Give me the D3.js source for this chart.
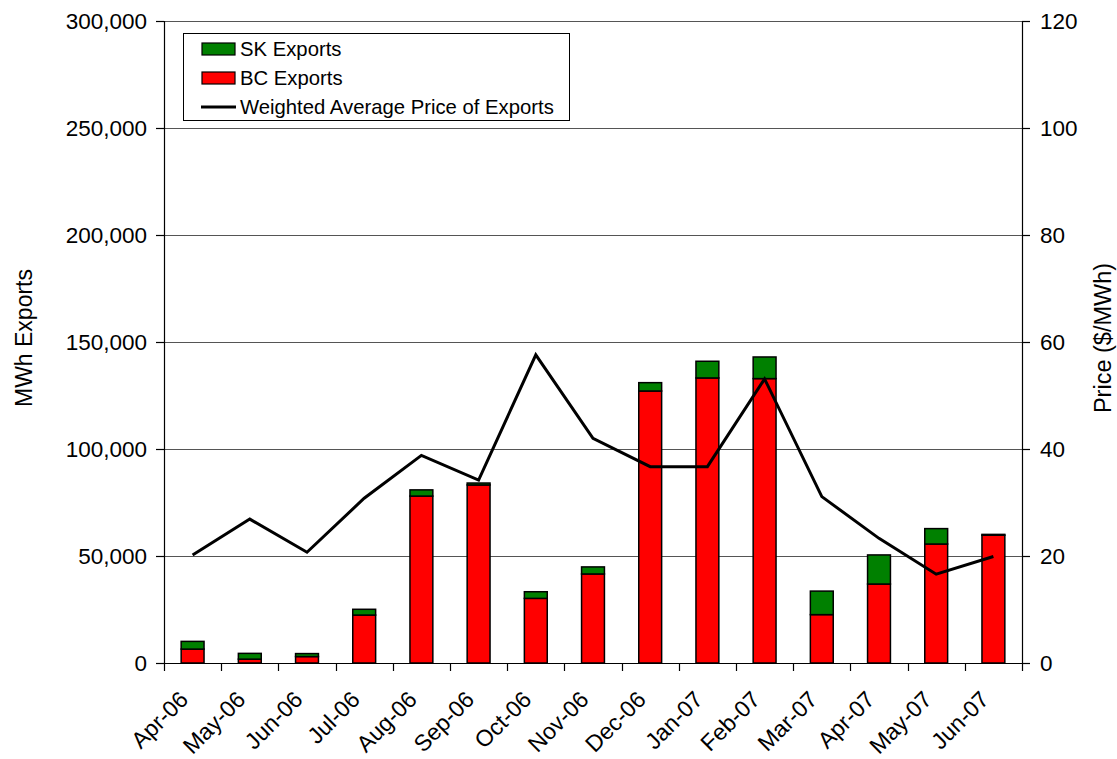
<!DOCTYPE html>
<html>
<head>
<meta charset="utf-8">
<script src="https://cdn.jsdelivr.net/npm/d3@7"></script>
<style>
  body { margin: 0; background: #fff; }
  svg text { font-family: "Liberation Sans", Arial, sans-serif; fill: #000; }
</style>
</head>
<body>
<svg id="chart" width="1117" height="759"></svg>
<script>
const months = ["Apr-06","May-06","Jun-06","Jul-06","Aug-06","Sep-06","Oct-06","Nov-06","Dec-06","Jan-07","Feb-07","Mar-07","Apr-07","May-07","Jun-07"];
const bcExports = [6500, 1800, 3000, 22400, 78000, 83200, 30200, 41600, 127100, 133200, 132900, 22600, 36900, 55600, 59700];
const skExports = [3600, 2700, 1400, 2700, 2900, 900, 3100, 3300, 3900, 7800, 10100, 11000, 13600, 7200, 400];
const price = [20.2, 26.9, 20.7, 30.8, 38.8, 34.2, 57.6, 42.0, 36.7, 36.7, 53.1, 31.1, 23.3, 16.6, 19.9];
const leftTicks = [0, 50000, 100000, 150000, 200000, 250000, 300000];
const rightTicks = [0, 20, 40, 60, 80, 100, 120];
const legendLabels = ["SK Exports", "BC Exports", "Weighted Average Price of Exports"];

const svg = d3.select("#chart");
const L = 164, R = 1022, T = 21, B = 663;

const x = d3.scaleBand().domain(months).range([L, R]).paddingInner(0.6).paddingOuter(0.3);
const xEdge = d3.scaleLinear().domain([0, months.length]).range([L, R]);
const yL = d3.scaleLinear().domain([0, 300000]).range([B, T]);
const yR = d3.scaleLinear().domain([0, 120]).range([B, T]);
const fmt = d3.format(",");

// gridlines
svg.append("g").selectAll("line").data(leftTicks).join("line")
  .attr("x1", L).attr("x2", R)
  .attr("y1", d => Math.round(yL(d)) + 0.5).attr("y2", d => Math.round(yL(d)) + 0.5)
  .attr("stroke", "#555").attr("stroke-width", 1.2);

// bars
const cx = d => x(d) + x.bandwidth() / 2;
const barG = svg.append("g");
months.forEach((m, i) => {
  barG.append("rect")
    .attr("x", x(m)).attr("width", x.bandwidth())
    .attr("y", yL(bcExports[i])).attr("height", yL(0) - yL(bcExports[i]))
    .attr("fill", "#ff0000").attr("stroke", "#000").attr("stroke-width", 1.5);
  barG.append("rect")
    .attr("x", x(m)).attr("width", x.bandwidth())
    .attr("y", yL(bcExports[i] + skExports[i])).attr("height", yL(bcExports[i]) - yL(bcExports[i] + skExports[i]))
    .attr("fill", "#008000").attr("stroke", "#000").attr("stroke-width", 1.5);
});

// price line
const line = d3.line().x((d, i) => cx(months[i])).y(d => yR(d));
svg.append("path").datum(price).attr("d", line)
  .attr("fill", "none").attr("stroke", "#000").attr("stroke-width", 3).attr("stroke-linejoin", "miter");

// axes lines
svg.append("line").attr("x1", L + 0.5).attr("x2", L + 0.5).attr("y1", T).attr("y2", B).attr("stroke", "#000").attr("stroke-width", 1.2);
svg.append("line").attr("x1", R + 0.5).attr("x2", R + 0.5).attr("y1", T).attr("y2", B).attr("stroke", "#000").attr("stroke-width", 1.2);
svg.append("line").attr("x1", L).attr("x2", R).attr("y1", B + 0.5).attr("y2", B + 0.5).attr("stroke", "#000").attr("stroke-width", 1.2);

// left ticks
const lt = svg.append("g");
lt.selectAll("line").data(leftTicks).join("line")
  .attr("x1", L - 8).attr("x2", L).attr("y1", d => Math.round(yL(d)) + 0.5).attr("y2", d => Math.round(yL(d)) + 0.5)
  .attr("stroke", "#000").attr("stroke-width", 1.2);
lt.selectAll("text").data(leftTicks).join("text")
  .attr("x", 147).attr("y", d => yL(d)).attr("dy", "0.36em")
  .attr("text-anchor", "end").attr("font-size", 22.5).text(d => fmt(d));

// right ticks
const rt = svg.append("g");
rt.selectAll("line").data(rightTicks).join("line")
  .attr("x1", R).attr("x2", R + 8).attr("y1", d => Math.round(yR(d)) + 0.5).attr("y2", d => Math.round(yR(d)) + 0.5)
  .attr("stroke", "#000").attr("stroke-width", 1.2);
rt.selectAll("text").data(rightTicks).join("text")
  .attr("x", 1040).attr("y", d => yR(d)).attr("dy", "0.36em")
  .attr("text-anchor", "start").attr("font-size", 22.5).text(d => d);

// bottom ticks
svg.append("g").selectAll("line").data(d3.range(months.length + 1)).join("line")
  .attr("x1", d => Math.round(xEdge(d)) + 0.5).attr("x2", d => Math.round(xEdge(d)) + 0.5)
  .attr("y1", B).attr("y2", B + 8).attr("stroke", "#000").attr("stroke-width", 1.2);

// x labels
svg.append("g").selectAll("text").data(months).join("text")
  .attr("transform", d => `translate(${cx(d) - 3},${B + 38}) rotate(-45)`)
  .attr("text-anchor", "end").attr("font-size", 23).text(d => d);

// axis titles
svg.append("text").attr("transform", "translate(32,338) rotate(-90)")
  .attr("text-anchor", "middle").attr("font-size", 23).text("MWh Exports");
svg.append("text").attr("transform", "translate(1111,338) rotate(-90)")
  .attr("text-anchor", "middle").attr("font-size", 23.5).text("Price ($/MWh)");

// legend
const lg = svg.append("g");
lg.append("rect").attr("x", 183.5).attr("y", 33.5).attr("width", 386).attr("height", 87)
  .attr("fill", "#fff").attr("stroke", "#000").attr("stroke-width", 1);
const swColors = ["#008000", "#ff0000"];
[0, 1].forEach(i => {
  lg.append("rect").attr("x", 202).attr("y", 43 + i * 29).attr("width", 33).attr("height", 12)
    .attr("fill", swColors[i]).attr("stroke", "#000").attr("stroke-width", 1.2);
});
lg.append("line").attr("x1", 201).attr("x2", 236).attr("y1", 107).attr("y2", 107)
  .attr("stroke", "#000").attr("stroke-width", 3);
lg.selectAll("text.lt").data(legendLabels).join("text").attr("class", "lt")
  .attr("x", 240).attr("y", (d, i) => 49 + i * 29).attr("dy", "0.36em")
  .attr("font-size", 20.3).text(d => d);
</script>
</body>
</html>
